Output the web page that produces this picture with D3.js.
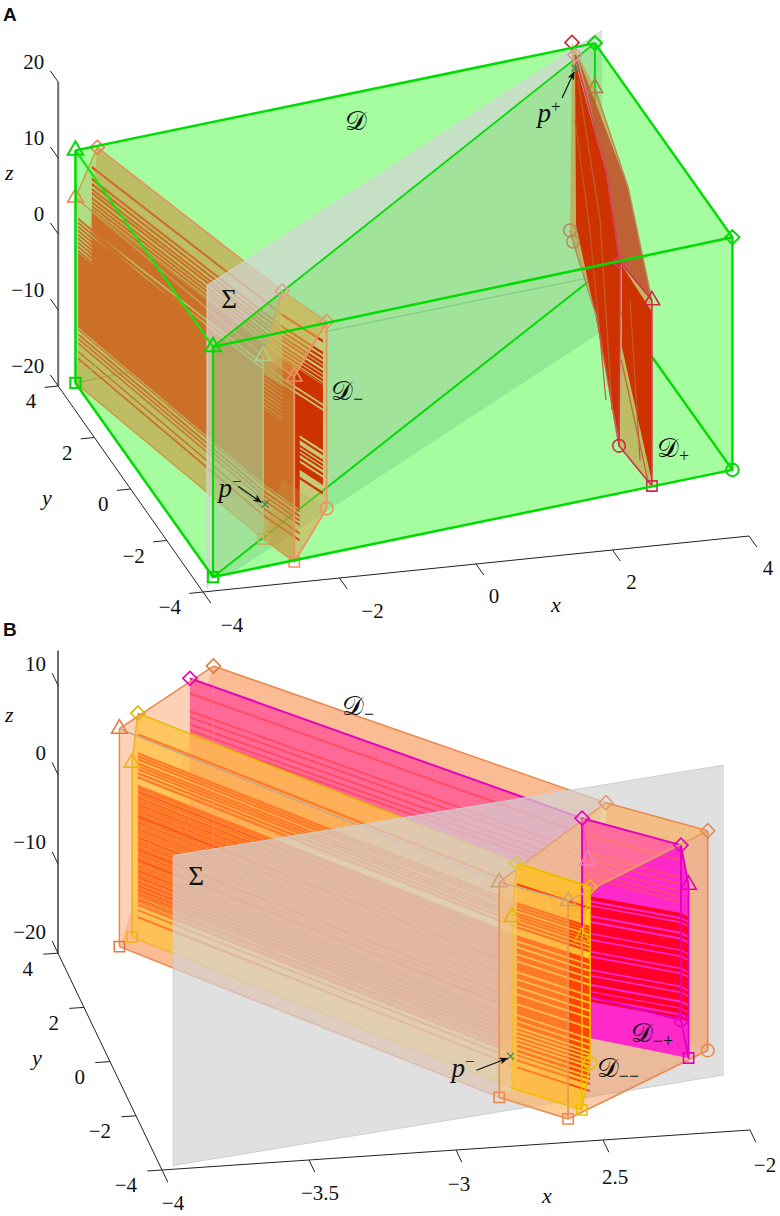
<!DOCTYPE html>
<html lang="en">
<head>
<meta charset="UTF-8">
<title>Domains D, D- and D+ with the plane Sigma</title>
<script src="https://d3js.org/d3.v7.min.js"></script>
<style>
  body { margin: 0; background: #fff; }
  text { font-family: "Liberation Serif", "DejaVu Serif", serif; fill: #111; }
  .num { font-size: 21px; }
  .var { font-size: 22px; font-style: italic; }
  .math { font-size: 27px; }
  .panel { font-family: "Liberation Sans", sans-serif; font-size: 19px; font-weight: bold; }
</style>
</head>
<body>
<svg id="chart" width="780" height="1216"></svg>
<script>
// ticks
const aTicksX = [-4, -2, 0, 2, 4];
const aTicksY = [-4, -2, 0, 2, 4];
const aTicksZ = [-20, -10, 0, 10, 20];
const bTicksX = [-4, -3.5, -3, -2.5, -2];
const bLabelsX = ["−4", "−3.5", "−3", "2.5", "−2"];
const bTicksY = [-4, -2, 0, 2, 4];
const bTicksZ = [-20, -10, 0, 10];

// big domain D, points are [x, y, z]
const dTop = [[-3.8, 3.8, 11.5], [-3.8, -3.8, 11.4], [3.81, -3.8, 18.8], [3.81, 3.8, 18.6]];
const dBottom = [[-3.8, 3.8, -19.1], [-3.8, -3.8, -18.9], [3.81, -3.8, -11.8], [3.81, 3.8, -12.1]];

// sigma plane (x = y)
const sigmaS = [-3.92, 3.96];
const sigmaZ = [-20, 20];
const sigmaLow = [[-3.8, -3.8, -18.9], [3.81, 3.81, -12.1], [3.9, 3.9, -20], [-3.4, -3.4, -20]];

// D- : left end, section on sigma, right end
const mTri = [[-3.8, 3.8, 5.3], [-2.8, -2.8, 5.9], [-2.61, -3.8, 6.4]];
const mDia = [[-3.48, 3.8, 11.6], [-2.42, -2.42, 12.8], [-2.135, -3.8, 13.2]];
const mCir = [[-3.48, 3.8, -12.7], [-2.42, -2.42, -11.9], [-2.135, -3.8, -11.4]];
const mSqu = [[-3.8, 3.8, -19.1], [-2.8, -2.8, -18.2], [-2.61, -3.8, -18]];

// D+ stations run from the back to the front
const pDia = [[3.475, 3.8, 19], [3.418, 3.418, 18.7], [2.965, 0, 15.8], [2.163, -3.8, 17.07]];
const pTri = [[3.81, 3.8, 12.7], [3.288, 0, 13], [2.63, -3.8, 11.6]];
const pCir = [[3.446, 3.8, -5.7], [3.378, 3.378, -5.7], [2.83, 0, -3.7], [2.148, -3.8, -7.1]];
const pSqu = [[3.81, 3.8, -12.04], [3.26, 0, -13.66], [2.63, -3.8, -12.84]];
const pRedLeft = [[3.52, 3.8, 16.4], [2.965, 0, 15.3], [2.163, -3.8, 16.7], [2.148, -3.8, -6.34], [2.83, 0, -4.3], [3.535, 3.8, -5.1]];
const pRedRight = [[2.19, -3.8, 16.6], [2.617, -3.8, 10.3], [2.617, -3.8, -11.7], [2.19, -3.8, 5.9]];
const pBrown = [[3.563, 3.8, 17], [3.288, 0, 13], [2.63, -3.8, 11.6], [2.163, -3.8, 17.07], [2.965, 0, 15.8]];
const pStreakA = [[3.563, 3.8, 13.97], [2.88, 0, 9.05], [2.046, -3.8, -2.3]];
const pStreakB = [[3.52, 3.8, 8.75], [2.73, 0, 7.9], [1.957, -3.8, -0.9]];
const pStreakC = [[2.31, -3.8, 12], [2.457, -3.8, -9.3]];
const pStreakD = [[2.18, -3.8, 4.2], [2.57, -3.8, -12]];

const pointMinus = [-2.76, -2.76, -13.8];
const pointPlus = [3.52, 3.8, 15.6];

// trajectory ribbons in panel A, band limits are z below the path
const aPathFront = [[-3.76, 3.8, 5.0], [-2.8, -2.8, 5.9], [-2.53, -3.8, 5.7]];
const aPathBack = [[-3.56, 3.8, 9.5], [-2.42, -2.42, 10.1], [-2.19, -3.8, 11.1]];
const aBandsFront = [[2.37, 2.7], [2.89, 3.22], [3.42, 3.75], [3.95, 4.28], [4.47, 4.8], [5, 5.33], [5.53, 5.86], [6.05, 6.38], [6.58, 6.9],
  [6.97, 16.84], [17, 17.2], [17.6, 17.9], [18.2, 18.45], [18.8, 19.05], [19.9, 20.15], [20.8, 21.1]];
const aBandsBack = [[0.25, 0.6], [1.84, 2.18], [2.5, 2.84], [3.16, 3.5], [3.68, 4.02], [4.34, 4.68], [4.87, 5.21], [5.4, 5.74], [5.92, 6.1],
  [6.18, 8.68], [8.95, 9.34], [9.6, 14.8], [15.13, 15.45], [16.05, 16.35], [16.58, 16.9], [17.1, 17.4], [17.76, 18.1], [18.4, 19.35], [20.26, 20.6]];

// D-- and D-+ in panel B
const yDia = [[-3.737, 3.8, 6.9], [-2.737, -2.737, 7.7], [-2.535, -3.8, 7.8]];
const yTri = [[-3.757, 3.8, 1.4], [-2.754, -2.754, 1.76], [-2.563, -3.8, 2.26]];
const yCir = [[-3.737, 3.8, -12.9], [-2.737, -2.737, -12.1], [-2.535, -3.8, -11.9]];
const ySqu = [[-3.757, 3.8, -18.13], [-2.754, -2.754, -17.4], [-2.563, -3.8, -17.1]];
const nDia = [[-3.56, 3.8, 10.4], [-2.505, -2.505, 11.5], [-2.226, -3.8, 11.8]];
const nTri = [[-3.543, 3.8, 5.5], [-2.484, -2.484, 6.7], [-2.2, -3.8, 7.3]];
const nCir = [[-3.56, 3.8, -9.5], [-2.505, -2.505, -8.2], [-2.226, -3.8, -7.8]];
const nSqu = [[-3.543, 3.8, -14.5], [-2.484, -2.484, -13.2], [-2.2, -3.8, -12.1]];
const nPinkLow = [[-3.56, 3.8, -4], [-2.505, -2.505, -2.9]];
const nCapFoot = [-2.616, -2.616, -11.64];
const nCapPath = [[-2.616, -2.616, 11.77], [-2.226, -3.8, 11.8], [-2.2, -3.8, 11.3]];

const bBaseYellow = [[8.0, 20.2]];
const bBandsYellow = [[2.24, 2.5], [4.37, 4.64], [4.7, 4.97], [5.04, 5.3], [5.49, 5.75], [5.82, 6.09], [6.16, 6.42], [6.6, 6.87], [7.05, 7.32],
  [8.06, 8.62], [8.85, 9.29], [9.52, 10.08], [10.3, 10.86], [11.09, 12.09], [12.32, 12.88], [13.1, 13.77], [14, 14.56], [14.78, 15.68], [15.9, 16.9],
  [17.13, 17.58], [17.8, 18.25], [18.48, 18.7], [18.92, 19.15], [19.37, 19.6], [19.82, 20.05], [20.27, 20.6], [20.83, 21.16], [21.39, 21.6], [21.95, 22.17], [22.73, 22.96]];
const bLinesYellow = [[8.7, 8.82], [9.4, 9.5], [10.15, 10.27], [10.9, 11.02], [11.5, 11.62], [12.15, 12.27], [12.95, 13.07], [13.85, 13.97], [14.6, 14.72], [15.2, 15.32],
  [15.75, 15.87], [16.4, 16.52], [17, 17.1], [17.6, 17.72], [18.3, 18.42], [18.8, 18.9], [19.25, 19.35], [19.7, 19.8], [20.15, 20.25], [20.7, 20.82], [21.25, 21.35]];
const bLinesPink = [[1.57, 1.8], [3.58, 3.8], [4.26, 4.48], [5.04, 5.26], [5.71, 5.93], [6.27, 6.49]];
const bBandsCap = [[7.6, 8.05], [8.3, 8.55], [8.75, 9.7], [9.95, 10.35], [10.6, 11.7], [11.85, 12.35], [12.55, 13.7], [13.9, 14.25], [14.45, 15.75], [15.95, 16.4], [16.6, 17.4], [17.65, 18.2], [18.35, 18.85], [19.1, 19.4]];

const svg = d3.select("#chart");
svg.append("defs").append("marker").attr("id", "head")
  .attr("viewBox", "0 0 10 8").attr("refX", 9).attr("refY", 4)
  .attr("markerWidth", 9).attr("markerHeight", 7).attr("markerUnits", "userSpaceOnUse").attr("orient", "auto")
  .append("path").attr("d", "M0,0L10,4L0,8L2.5,4Z").attr("fill", "#111");

// oblique view: each data axis has a horizontal and a vertical screen scale
function makeView(cfg) {
  const xH = d3.scaleLinear().domain(cfg.xDom).range(cfg.xH);
  const xV = d3.scaleLinear().domain(cfg.xDom).range(cfg.xV);
  const yH = d3.scaleLinear().domain([-4, 4]).range(cfg.yH);
  const yV = d3.scaleLinear().domain([-4, 4]).range(cfg.yV);
  const zV = d3.scaleLinear().domain(cfg.zDom).range(cfg.zV);
  return p => [xH(p[0]) + yH(p[1]), xV(p[0]) + yV(p[1]) + zV(p[2])];
}

const line = d3.line();
function area(g, view, pts, fill, op) {
  return g.append("path").attr("d", line(pts.map(view)) + "Z").attr("fill", fill).attr("fill-opacity", op === undefined ? 1 : op);
}
function wire(g, view, pts, stroke, w, op) {
  return g.append("path").attr("d", line(pts.map(view))).attr("fill", "none").attr("stroke", stroke)
    .attr("stroke-width", w || 1.5).attr("stroke-opacity", op === undefined ? 1 : op).attr("stroke-linejoin", "round");
}
function ribbons(g, view, path, bands, fill) {
  g.append("g").selectAll("path").data(bands).join("path")
    .attr("d", b => {
      const upper = path.map(p => [p[0], p[1], p[2] - b[0]]);
      const lower = path.map(p => [p[0], p[1], p[2] - b[1]]).reverse();
      return line(upper.concat(lower).map(view)) + "Z";
    })
    .attr("fill", fill);
}
const shapes = {
  tri: d3.symbol().type(d3.symbolTriangle).size(105)(),
  squ: d3.symbol().type(d3.symbolSquare).size(105)(),
  cir: d3.symbol().type(d3.symbolCircle).size(125)(),
  dia: d3.symbol().type(d3.symbolSquare).size(100)()
};
function mark(g, view, pts, kind, color, w) {
  g.append("g").selectAll("path").data(pts).join("path")
    .attr("d", shapes[kind])
    .attr("transform", p => {
      const s = view(p);
      return `translate(${s[0]},${s[1]})` + (kind === "dia" ? " rotate(45)" : "");
    })
    .attr("fill", "none").attr("stroke", color).attr("stroke-width", w || 1.6);
}
function label(g, x, y, parts) {
  const t = g.append("text").attr("x", x).attr("y", y).attr("class", "math").attr("text-anchor", "middle");
  parts.forEach(p => {
    const s = t.append("tspan").text(p.t);
    if (p.i) s.attr("font-style", "italic");
    if (p.fs) s.attr("font-size", p.fs);
    if (p.dy) s.attr("dy", p.dy);
  });
  return t;
}
const numText = v => (v < 0 ? "−" : "") + Math.abs(v);

function drawAxes(g, view, o) {
  const zb = o.zBase;
  wire(g, view, [[-4, 4, zb], [-4, 4, o.zTop]], "#6e6e6e", 2);
  wire(g, view, [[-4, 4, zb], [-4, -4, zb]], "#222", 1);
  wire(g, view, [[o.xEnds[0], -4, zb], [o.xEnds[1], -4, zb]], "#222", 1);
  o.ticksX.forEach((v, i) => {
    wire(g, view, [[v, -4, zb], [v, -4 - o.tx, zb]], "#222", 1);
    const s = view([v, -4, zb]);
    const off = o.offX[i];
    g.append("text").attr("class", "num").attr("text-anchor", "middle").attr("x", s[0] + off[0]).attr("y", s[1] + off[1]).attr("dy", ".35em")
      .text(o.labelsX ? o.labelsX[i] : numText(v));
  });
  o.ticksY.forEach(v => {
    wire(g, view, [[-4, v, zb], [-4 - o.ty, v, zb]], "#222", 1);
    const s = view([-4, v, zb]);
    g.append("text").attr("class", "num").attr("text-anchor", "end").attr("x", s[0] + o.offY[0]).attr("y", s[1] + o.offY[1]).attr("dy", ".35em").text(numText(v));
  });
  o.ticksZ.forEach(v => {
    wire(g, view, [[-4, 4, v], [-4, 4 + o.tz, v]], "#222", 1);
    const s = view([-4, 4, v]);
    g.append("text").attr("class", "num").attr("text-anchor", "end").attr("x", s[0] + o.offZ[0]).attr("y", s[1] + o.offZ[1]).attr("dy", ".35em").text(numText(v));
  });
}

// points p- and p+ with arrows
function pointer(g, view, pt, from, to) {
  const s = view(pt);
  g.append("path").attr("d", d3.symbol().type(d3.symbolX).size(34)()).attr("transform", `translate(${s[0]},${s[1]})`)
    .attr("fill", "none").attr("stroke", "#3f8f50").attr("stroke-width", 1.3);
  g.append("line").attr("x1", s[0] + from[0]).attr("y1", s[1] + from[1]).attr("x2", s[0] + to[0]).attr("y2", s[1] + to[1])
    .attr("stroke", "#111").attr("stroke-width", 1.2).attr("marker-end", "url(#head)");
}

// ---------- panel A ----------
const viewA = makeView({ xDom: [-4, 4], xH: [203, 749], xV: [592, 536], yH: [0, -144.8], yV: [0, -206], zDom: [-20, 20], zV: [0, -304] });
const A = svg.append("g");
const green = "#00dc00";
const hullD = [dTop[0], dTop[3], dTop[2], dBottom[2], dBottom[1], dBottom[0]];

area(A, viewA, hullD, "#a6fda0");
wire(A, viewA, [dBottom[0], dBottom[3]], "#63d463", 1.5);

// left part of D-, behind the plane
const oliveFace = "rgb(203,150,64)";
ribbons(A, viewA, aPathBack.slice(0, 2), aBandsBack, "rgb(205,50,0)");
area(A, viewA, [mDia[0], mDia[1], mSqu[1], mSqu[0]], oliveFace, 0.62);
area(A, viewA, [mTri[0], mDia[0], mSqu[0]], oliveFace, 0.3);
ribbons(A, viewA, aPathFront.slice(0, 2), aBandsFront, "rgb(204,112,40)");
wire(A, viewA, mTri.slice(0, 2), "#c0a050", 1.5);
wire(A, viewA, mDia, "#ea8f5c", 1.5);
wire(A, viewA, [mSqu[0], mSqu[1]], "#c9a048", 1.5);
wire(A, viewA, [mTri[0], mDia[0]], "#c9a048", 1.5);
wire(A, viewA, [mSqu[0], [-3.48, 3.8, -17]], "#8fd050", 1.5);
mark(A, viewA, [mTri[0]], "tri", "#ea8050");
mark(A, viewA, [mDia[0]], "dia", "#ea8050");
mark(A, viewA, [mSqu[0]], "squ", "#ea8050");

// sigma: the part inside the box, the strip under it and the band above it
area(A, viewA, [dTop[1], dTop[3], dBottom[3], dBottom[1]], "rgb(158,207,154)", 0.56);
area(A, viewA, sigmaLow, "rgb(120,200,130)", 0.4);
area(A, viewA, [dTop[3], [3.96, 3.96, 17.4], [3.96, 3.96, -20], [3.9, 3.9, -20], dBottom[3]], "rgb(120,200,130)", 0.4);
area(A, viewA, [[sigmaS[0], sigmaS[0], sigmaZ[1]], [sigmaS[1], sigmaS[1], 19.6], [3.96, 3.96, 17.4], dTop[3], dTop[1], dBottom[1], [sigmaS[0], sigmaS[0], sigmaZ[0]]], "rgb(211,211,211)", 0.7);
wire(A, viewA, [[sigmaS[0], sigmaS[0], sigmaZ[0]], [sigmaS[0], sigmaS[0], sigmaZ[1]], [sigmaS[1], sigmaS[1], 19.6]], "#d4d4d4", 1);

wire(A, viewA, [dTop[1], dTop[3]], green, 1.8);
wire(A, viewA, [dBottom[1], dBottom[3]], green, 1.8);
wire(A, viewA, [dTop[3], dBottom[3]], green, 2);
wire(A, viewA, [dTop[3], dTop[2], dBottom[2], dBottom[3]], green, 2.4);

// right part of D-, in front of the plane
area(A, viewA, [mDia[1], mDia[2], mCir[2], mCir[1]], oliveFace, 0.25);
area(A, viewA, [mTri[2], mDia[2], mCir[2], mSqu[2]], "rgb(235,190,100)", 0.4);
wire(A, viewA, [dBottom[1], dBottom[3]], green, 1.2, 0.6);
ribbons(A, viewA, aPathBack.slice(1), aBandsBack, "rgb(205,50,0)");
ribbons(A, viewA, aPathFront.slice(1), aBandsFront, "rgb(205,50,0)");
area(A, viewA, [mTri[1], mDia[1], mDia[2], mTri[2]], "rgb(215,180,80)", 0.6);
area(A, viewA, [mTri[1], mTri[2], mSqu[2], mSqu[1]], oliveFace, 0.62);
area(A, viewA, [mSqu[1], mCir[1], mCir[2], mSqu[2]], oliveFace, 0.3);
wire(A, viewA, [mTri[1], mDia[1]], "#bdb070", 1.5);
wire(A, viewA, [mTri[1], mSqu[1]], "#b5c27a", 1.5);
wire(A, viewA, [mSqu[1], mSqu[2]], "#c9a048", 1.5);
wire(A, viewA, [mTri[1], mTri[2]], "#e0a060", 1.2);
wire(A, viewA, [mDia[2], mTri[2], mSqu[2], mCir[2], mDia[2]], "#ee9166", 1.8);
mark(A, viewA, [mDia[1]], "dia", "#e0a090");
mark(A, viewA, [mTri[1]], "tri", "#a8d090");
mark(A, viewA, [mSqu[1]], "squ", "#c9b060");
mark(A, viewA, [mDia[2]], "dia", "#ee9166");
mark(A, viewA, [mTri[2]], "tri", "#ee9166");
mark(A, viewA, [mCir[2]], "cir", "#ee9166");
mark(A, viewA, [mSqu[2]], "squ", "#ee9166");

// D+
const pHull = [pDia[0], pTri[0], pTri[1], pTri[2], pSqu[2], pCir[3], pCir[2], pCir[1], pCir[0]];
area(A, viewA, pHull, oliveFace, 0.62);
area(A, viewA, pRedLeft, "rgb(205,50,0)");
area(A, viewA, pRedRight, "rgb(205,50,0)");
area(A, viewA, pBrown, "rgb(190,90,50)", 0.92);
wire(A, viewA, pStreakA, "#c4592c", 1.4);
wire(A, viewA, pStreakB, "#c4592c", 1.2);
wire(A, viewA, pStreakC, "#c4592c", 1.2);
wire(A, viewA, pStreakD, "#c06a40", 1.4);
wire(A, viewA, pTri, "#b88a55", 1.5);
wire(A, viewA, pCir.slice(0, 3), "#b58a60", 1.5);
wire(A, viewA, [pCir[2], pCir[3]], "#cc5a50", 1.5);
wire(A, viewA, pDia.slice(1), "#d5405f", 1.8);
wire(A, viewA, [pDia[3], pTri[2], pSqu[2], pCir[3], pDia[3]], "#d8304f", 1.7);
mark(A, viewA, [pDia[0]], "dia", "#cc2233");
mark(A, viewA, [pDia[1]], "dia", "#dd99aa");
mark(A, viewA, [pDia[3]], "dia", "#d5405f");
mark(A, viewA, [pTri[2]], "tri", "#d02848");
mark(A, viewA, [pTri[0]], "tri", "#b07a48");
mark(A, viewA, [pCir[0], pCir[1]], "cir", "#b58a60");
mark(A, viewA, [pCir[3]], "cir", "#d02848");
mark(A, viewA, [pSqu[2]], "squ", "#d02848");

// front edges of D on top of everything
wire(A, viewA, [dTop[0], dTop[3]], green, 2.5);
wire(A, viewA, [dTop[0], dTop[1]], "#10e810", 2.2);
wire(A, viewA, [dTop[0], dBottom[0], dBottom[1], dBottom[2]], green, 2.5);
wire(A, viewA, [dTop[1], dTop[2]], green, 2.5);
wire(A, viewA, [dTop[1], dBottom[1]], green, 2.2);
mark(A, viewA, [dTop[0], dTop[1]], "tri", green, 2);
mark(A, viewA, [dTop[3], dTop[2]], "dia", green, 2);
mark(A, viewA, [dBottom[0], dBottom[1]], "squ", green, 2);
mark(A, viewA, [dBottom[2]], "cir", green, 2);

pointer(A, viewA, pointMinus, [-27, -18], [-4, -2]);
pointer(A, viewA, pointPlus, [-13, 30], [-1, 4]);

drawAxes(A, viewA, {
  zBase: -20, zTop: 20, xEnds: [-4, 4], ticksX: aTicksX, ticksY: aTicksY, ticksZ: aTicksZ,
  tx: 0.43, ty: 0.2, tz: 0.43,
  offX: [[29, 33], [33, 33], [18, 32], [19, 32], [19, 32]],
  offY: [-22, 15], offZ: [-14, -20]
});
A.append("text").attr("class", "panel").attr("x", 3).attr("y", 21).text("A");
A.append("text").attr("class", "var").attr("x", 5).attr("y", 180).text("z");
A.append("text").attr("class", "var").attr("x", 42).attr("y", 505).text("y");
A.append("text").attr("class", "var").attr("x", 551).attr("y", 612).text("x");
label(A, 356, 130, [{ t: "𝒟" }]);
label(A, 229, 308, [{ t: "Σ" }]);
label(A, 347, 400, [{ t: "𝒟" }, { t: "−", fs: 18, dy: 5 }]);
label(A, 673, 457, [{ t: "𝒟" }, { t: "+", fs: 18, dy: 5 }]);
label(A, 230, 497, [{ t: "p", i: 1 }, { t: "−", fs: 17, dy: -10 }]);
label(A, 549, 122, [{ t: "p", i: 1 }, { t: "+", fs: 17, dy: -10 }]);

// ---------- panel B ----------
const viewB = makeView({ xDom: [-4, -2], xH: [162, 750], xV: [1170, 1130], yH: [0, -104], yV: [0, -216.8], zDom: [-20, 10], zV: [0, -267.9] });
const B = svg.append("g");
const orangeFace = "rgb(250,140,70)";

// left part, behind sigma
area(B, viewB, [mTri[0], mDia[0], mDia[1], mSqu[1], mSqu[0]], orangeFace, 0.4);
area(B, viewB, [mDia[0], mDia[1], mSqu[1], mSqu[0]], orangeFace, 0.3);
area(B, viewB, [nDia[0], nDia[1], nPinkLow[1], nPinkLow[0]], "rgb(255,105,150)");
ribbons(B, viewB, nDia.slice(0, 2), bLinesPink, "rgb(255,75,100)");
wire(B, viewB, nDia.slice(0, 2), "#e400c0", 2);
area(B, viewB, [yTri[0], yDia[0], yDia[1], ySqu[1], ySqu[0]], "rgb(255,195,70)", 0.78);
ribbons(B, viewB, yDia.slice(0, 2), bBaseYellow, "rgb(255,160,65)");
ribbons(B, viewB, yDia.slice(0, 2), bBandsYellow, "rgb(255,122,38)");
ribbons(B, viewB, yDia.slice(0, 2), bLinesYellow, "rgb(255,70,35)");
wire(B, viewB, mTri.slice(0, 2), "#c9a585", 1.6);
wire(B, viewB, yDia.slice(0, 2), "#e2bb00", 1.5);
wire(B, viewB, [yDia[0], yTri[0], ySqu[0]], "#f0b020", 1.5);
wire(B, viewB, ySqu.slice(0, 2), "#f0b020", 1.2);
wire(B, viewB, [mTri[0], mDia[0]], "#e88a50", 1.5);
wire(B, viewB, mDia.slice(0, 2), "#e88a50", 1.5);
wire(B, viewB, [mDia[0], mCir[0]], "#f0a880", 1, 0.35);
wire(B, viewB, [mTri[0], mSqu[0]], "#e88a50", 1.5);
wire(B, viewB, mSqu.slice(0, 2), "#e88a50", 1.5);
mark(B, viewB, [mTri[0]], "tri", "#e07a40");
mark(B, viewB, [mDia[0]], "dia", "#e07a40");
mark(B, viewB, [mSqu[0]], "squ", "#e07a40");
mark(B, viewB, [yDia[0]], "dia", "#e2b000");
mark(B, viewB, [yTri[0]], "tri", "#f0b020");
mark(B, viewB, [ySqu[0]], "squ", "#f0b020");
mark(B, viewB, [nDia[0]], "dia", "#e400c0");

// sigma
const sigB = [-3.96, -2.0];
area(B, viewB, [[sigB[0], sigB[0], -19.7], [sigB[0], sigB[0], 15], [sigB[1], sigB[1], 14.8], [sigB[1], sigB[1], -19.9]], "rgb(211,211,211)", 0.7);
wire(B, viewB, [[sigB[0], sigB[0], -19.7], [sigB[0], sigB[0], 15], [sigB[1], sigB[1], 14.8]], "#cfcfcf", 1);
wire(B, viewB, [[sigB[0], sigB[0], -19.7], [sigB[1], sigB[1], -19.9]], "#cfcfcf", 1);

// right part, in front of sigma
area(B, viewB, [mDia[1], mDia[2], mCir[2], mCir[1]], orangeFace, 0.4);
area(B, viewB, [mTri[2], mDia[2], mCir[2], mSqu[2]], orangeFace, 0.2);
area(B, viewB, [mSqu[1], mCir[1], mCir[2], mSqu[2]], orangeFace, 0.3);
area(B, viewB, [nDia[1], nDia[2], nTri[2], nSqu[2], nCapFoot, nCir[1]], "rgb(255,40,200)");
ribbons(B, viewB, nCapPath, bBandsCap, "rgb(255,0,40)");
ribbons(B, viewB, [nDia[1], nDia[2]], bLinesPink, "rgb(255,70,120)");
wire(B, viewB, [nCir[1], nCir[2]], "#e400c0", 2);
area(B, viewB, [mTri[1], mDia[1], mDia[2], mTri[2]], "rgb(255,190,100)", 0.45);
area(B, viewB, [yDia[1], yDia[2], yCir[2], ySqu[2], ySqu[1]], "rgb(255,190,50)", 0.95);
area(B, viewB, [yTri[2], yDia[2], yCir[2], ySqu[2]], "rgb(255,208,30)");
ribbons(B, viewB, [yDia[1], yDia[2]], bBandsYellow, "rgb(255,70,5)");
area(B, viewB, [mTri[1], mTri[2], mSqu[2], mSqu[1]], "rgb(255,185,90)", 0.45);
wire(B, viewB, [nDia[1], nDia[2]], "#e400c0", 2);
wire(B, viewB, [nDia[1], nCir[1]], "#e400c0", 2);
wire(B, viewB, [nDia[2], nTri[2], nSqu[2], nCir[2], nDia[2]], "#e400c0", 1.8);
wire(B, viewB, [nDia[1], nTri[1]], "#f04ec0", 1.5);
wire(B, viewB, [mDia[1], mDia[2]], "#e88a50", 1.5);
wire(B, viewB, [mTri[1], mDia[1]], "#e0a070", 1.5);
wire(B, viewB, [mTri[2], mDia[2]], "#e8a060", 1.8);
wire(B, viewB, [mDia[2], mCir[2], mSqu[2]], "#e88a50", 1.7);
wire(B, viewB, [mTri[1], mSqu[1], mSqu[2], mTri[2]], "#e8955a", 1.7);
wire(B, viewB, [mTri[1], mTri[2]], "#cfa888", 1.6);
wire(B, viewB, [yDia[1], yDia[2]], "#e8c000", 2);
wire(B, viewB, [yDia[1], yTri[1], ySqu[1]], "#f0c020", 1.2);
wire(B, viewB, [ySqu[1], ySqu[2], yTri[2], yDia[2], yCir[2], ySqu[2]], "#ecc000", 1.6);
mark(B, viewB, [nDia[1], nDia[2]], "dia", "#e400c0");
mark(B, viewB, [nTri[1]], "tri", "#f080c0");
mark(B, viewB, [nTri[2]], "tri", "#e400c0");
mark(B, viewB, [nCir[2]], "cir", "#e400c0");
mark(B, viewB, [nSqu[2]], "squ", "#e400c0");
mark(B, viewB, [mDia[1]], "dia", "#e09a70");
mark(B, viewB, [mDia[2]], "dia", "#e88a50");
mark(B, viewB, [mTri[1], mTri[2]], "tri", "#cfa080");
mark(B, viewB, [mCir[2]], "cir", "#e88a50");
mark(B, viewB, [mSqu[1], mSqu[2]], "squ", "#e88a50");
mark(B, viewB, [yDia[1]], "dia", "#d8c840");
mark(B, viewB, [yDia[2]], "dia", "#e8c000");
mark(B, viewB, [yTri[1], yTri[2]], "tri", "#ecb000");
mark(B, viewB, [yCir[2]], "cir", "#ecc000");
mark(B, viewB, [ySqu[2]], "squ", "#ecc000");
pointer(B, viewB, pointMinus, [-34, 14], [-3, 2]);

drawAxes(B, viewB, {
  zBase: -20, zTop: 13.9, xEnds: [-4, -2], ticksX: bTicksX, labelsX: bLabelsX, ticksY: bTicksY, ticksZ: bTicksZ,
  tx: 0.45, ty: 0.05, tz: 0.45,
  offX: [[11, 33], [11, 33], [3, 34], [12, 37], [15, 35]],
  offY: [-25, 15], offZ: [-12, -22]
});
B.append("text").attr("class", "panel").attr("x", 3).attr("y", 636).text("B");
B.append("text").attr("class", "var").attr("x", 5).attr("y", 722).text("z");
B.append("text").attr("class", "var").attr("x", 32).attr("y", 1065).text("y");
B.append("text").attr("class", "var").attr("x", 542).attr("y", 1203).text("x");
label(B, 358, 715, [{ t: "𝒟" }, { t: "−", fs: 18, dy: 5 }]);
label(B, 196, 885, [{ t: "Σ" }]);
label(B, 652, 1042, [{ t: "𝒟" }, { t: "−+", fs: 18, dy: 5 }]);
label(B, 618, 1077, [{ t: "𝒟" }, { t: "−−", fs: 18, dy: 5 }]);
label(B, 463, 1077, [{ t: "p", i: 1 }, { t: "−", fs: 17, dy: -10 }]);
</script>
</body>
</html>
